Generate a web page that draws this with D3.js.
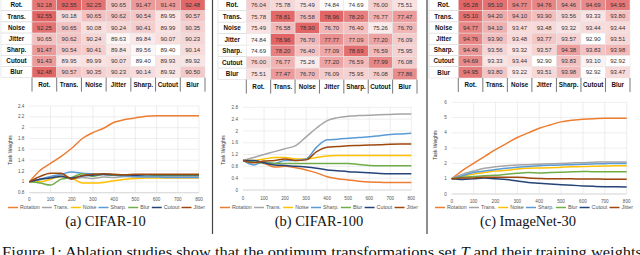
<!DOCTYPE html>
<html lang="en">
<head>
<meta charset="utf-8">
<title>Ablation: transformation pairs and task weights</title>
<script src="https://cdn.jsdelivr.net/npm/d3@7"></script>
<style>
  body { margin: 0; background: #fff; }
  svg { display: block; }
</style>
</head>
<body>
<script>
// ---- data ----
var rowNames = ["Rot.", "Trans.", "Noise", "Jitter", "Sharp.", "Cutout", "Blur"];

// accuracy of each transformation pair
var cifar10Acc = [
  [92.18, 92.55, 92.25, 90.65, 91.47, 91.43, 92.48],
  [92.55, 90.18, 90.65, 90.62, 90.54, 89.95, 90.57],
  [92.25, 90.65, 90.08, 90.24, 90.41, 89.99, 90.35],
  [90.65, 90.62, 90.24, 89.63, 89.84, 90.07, 90.23],
  [91.47, 90.54, 90.41, 89.84, 89.56, 89.40, 90.14],
  [91.43, 89.95, 89.99, 90.07, 89.40, 89.93, 89.92],
  [92.48, 90.57, 90.35, 90.23, 90.14, 89.92, 90.50]
];
var cifar100Acc = [
  [76.04, 75.78, 75.49, 74.84, 74.69, 76.00, 75.51],
  [75.78, 78.81, 76.58, 78.96, 78.20, 76.77, 77.47],
  [75.49, 76.58, 78.90, 76.70, 76.40, 75.26, 76.70],
  [74.84, 78.96, 76.70, 77.77, 77.09, 77.20, 76.09],
  [74.69, 78.20, 76.40, 77.09, 78.69, 76.59, 75.95],
  [76.00, 76.77, 75.26, 77.20, 76.59, 77.99, 76.08],
  [75.51, 77.47, 76.70, 76.09, 75.95, 76.08, 77.86]
];
var imagenetAcc = [
  [95.28, 95.10, 94.77, 94.76, 94.46, 94.69, 94.95],
  [95.10, 94.20, 94.10, 93.90, 93.56, 93.33, 93.80],
  [94.77, 94.10, 93.47, 93.48, 93.32, 93.44, 93.44],
  [94.76, 93.90, 93.48, 93.77, 93.57, 92.90, 93.51],
  [94.46, 93.56, 93.32, 93.57, 94.38, 93.83, 93.98],
  [94.69, 93.33, 93.44, 92.90, 93.83, 93.10, 92.92],
  [94.95, 93.80, 93.22, 93.51, 93.98, 92.92, 93.47]
];

// task weights during training
var seriesNames = ["Rotation", "Trans.", "Noise", "Sharp.", "Blur", "Cutout", "Jitter"];
var seriesColors = ["#ed7d31", "#a5a5a5", "#ffc000", "#5b9bd5", "#70ad47", "#264478", "#9e480e"];
var steps = [0, 50, 100, 150, 200, 250, 300, 350, 400, 450, 500, 550, 600, 650, 700, 750, 800];

// order: Rotation, Trans., Noise, Sharp., Blur, Cutout, Jitter
var cifar10Weights = [
  [1.00, 1.21, 1.34, 1.47, 1.62, 1.80, 1.91, 1.99, 2.10, 2.15, 2.18, 2.21, 2.22, 2.22, 2.22, 2.22, 2.22],
  [1.00, 1.04, 1.08, 1.12, 1.05, 1.08, 1.06, 1.09, 1.08, 1.10, 1.09, 1.10, 1.10, 1.10, 1.10, 1.10, 1.10],
  [1.00, 1.00, 1.05, 1.10, 1.07, 0.98, 0.98, 0.99, 1.02, 1.05, 1.06, 1.07, 1.07, 1.07, 1.07, 1.07, 1.07],
  [1.00, 1.05, 1.10, 1.14, 1.18, 1.16, 1.15, 1.13, 1.12, 1.11, 1.10, 1.09, 1.09, 1.08, 1.08, 1.08, 1.08],
  [1.00, 0.98, 0.94, 1.05, 1.08, 1.15, 1.10, 1.14, 1.12, 1.13, 1.12, 1.13, 1.12, 1.12, 1.12, 1.12, 1.12],
  [1.00, 1.05, 1.07, 1.10, 1.07, 1.11, 1.12, 1.14, 1.13, 1.13, 1.12, 1.13, 1.13, 1.13, 1.13, 1.13, 1.13],
  [1.00, 1.10, 1.16, 1.16, 1.05, 1.12, 1.14, 1.15, 1.14, 1.13, 1.14, 1.14, 1.14, 1.14, 1.14, 1.14, 1.14]
];
var cifar100Weights = [
  [1.00, 0.95, 0.90, 0.78, 0.80, 0.75, 0.68, 0.58, 0.45, 0.38, 0.34, 0.30, 0.27, 0.26, 0.25, 0.25, 0.25],
  [1.00, 1.10, 1.20, 1.30, 1.40, 1.50, 1.80, 2.10, 2.35, 2.45, 2.50, 2.52, 2.53, 2.55, 2.56, 2.57, 2.57],
  [1.00, 1.00, 1.05, 1.10, 1.10, 1.05, 1.05, 1.10, 1.15, 1.17, 1.17, 1.17, 1.17, 1.17, 1.17, 1.17, 1.17],
  [1.00, 0.85, 0.95, 0.90, 1.00, 1.00, 1.05, 1.45, 1.70, 1.72, 1.75, 1.78, 1.80, 1.84, 1.88, 1.90, 1.92],
  [1.00, 0.95, 0.92, 0.90, 0.90, 0.90, 0.90, 0.90, 0.90, 0.90, 0.90, 0.86, 0.83, 0.82, 0.82, 0.82, 0.82],
  [1.00, 1.00, 0.92, 0.85, 0.83, 0.80, 0.78, 0.74, 0.68, 0.65, 0.62, 0.60, 0.58, 0.56, 0.55, 0.55, 0.55],
  [1.00, 0.92, 0.98, 1.00, 1.05, 1.00, 1.02, 1.30, 1.45, 1.47, 1.50, 1.51, 1.52, 1.53, 1.55, 1.56, 1.56]
];
var imagenetWeights = [
  [1.00, 1.55, 2.00, 2.45, 2.90, 3.30, 3.70, 4.00, 4.30, 4.52, 4.72, 4.82, 4.89, 4.93, 4.95, 4.95, 4.95],
  [1.00, 1.30, 1.50, 1.68, 1.78, 1.85, 1.90, 1.92, 1.95, 1.98, 2.00, 2.03, 2.05, 2.08, 2.10, 2.10, 2.10],
  [1.00, 1.15, 1.30, 1.40, 1.50, 1.55, 1.63, 1.68, 1.70, 1.72, 1.75, 1.78, 1.80, 1.82, 1.83, 1.85, 1.85],
  [1.00, 1.20, 1.40, 1.50, 1.60, 1.68, 1.75, 1.80, 1.85, 1.88, 1.90, 1.92, 1.95, 1.97, 1.98, 2.00, 2.00],
  [1.00, 1.10, 1.15, 1.20, 1.22, 1.30, 1.35, 1.40, 1.38, 1.40, 1.42, 1.45, 1.48, 1.45, 1.45, 1.45, 1.45],
  [1.00, 0.95, 1.00, 1.05, 1.00, 0.95, 0.85, 0.75, 0.70, 0.65, 0.60, 0.57, 0.53, 0.50, 0.48, 0.47, 0.46],
  [1.00, 1.05, 1.05, 1.10, 1.10, 1.10, 1.10, 1.05, 1.02, 1.00, 1.00, 0.99, 0.98, 0.98, 0.97, 0.97, 0.97]
];

var cifar10Ticks = [0.8, 1, 1.2, 1.4, 1.6, 1.8, 2, 2.2, 2.4];
var cifar100Ticks = [0, 0.4, 0.8, 1.2, 1.6, 2, 2.4, 2.8];
var imagenetTicks = [0, 1, 2, 3, 4, 5, 6];
var stepTicks = [0, 100, 200, 300, 400, 500, 600, 700, 800];

var captions = ["(a) CIFAR-10", "(b) CIFAR-100", "(c) ImageNet-30"];

// ---- page ----
var width = 640, height = 255;
var svg = d3.select("body").append("svg").attr("width", width).attr("height", height);
var sans = "Arial, 'Liberation Sans', sans-serif";
var serif = "'Times New Roman', 'Liberation Serif', serif";

// panel dividers
[212.5, 427].forEach(function (x) {
  svg.append("line").attr("x1", x).attr("x2", x).attr("y1", 0).attr("y2", 234)
    .attr("stroke", "#444").attr("stroke-width", 1.2);
});

function drawTable(acc, labelX0, cellX0, cellX1, rowY0, rowY1) {
  var g = svg.append("g");
  var xs = d3.scaleBand().domain(d3.range(7)).range([cellX0, cellX1]);
  var ys = d3.scaleBand().domain(d3.range(7)).range([rowY0, rowY1]);
  var flat = d3.merge(acc);
  var color = d3.scaleLinear().domain([d3.min(flat), d3.max(flat)])
    .range(["#ffffff", "#e26464"]);

  // row labels
  rowNames.forEach(function (name, i) {
    g.append("rect").attr("x", labelX0).attr("y", ys(i))
      .attr("width", cellX0 - labelX0).attr("height", ys.bandwidth())
      .attr("fill", "#fff").attr("stroke", "#d4d4d4").attr("stroke-width", 0.5);
    g.append("text").attr("x", (labelX0 + cellX0) / 2).attr("y", ys(i) + ys.bandwidth() / 2)
      .attr("dy", "0.35em").attr("text-anchor", "middle")
      .style("font-family", sans).style("font-size", "6.3px").style("font-weight", "bold")
      .attr("fill", "#111").text(name);
  });

  // cells
  acc.forEach(function (row, i) {
    row.forEach(function (v, j) {
      g.append("rect").attr("x", xs(j)).attr("y", ys(i))
        .attr("width", xs.bandwidth()).attr("height", ys.bandwidth())
        .attr("fill", color(v)).attr("stroke", "#e6e6e6").attr("stroke-width", 0.5);
      g.append("text").attr("x", xs(j) + xs.bandwidth() / 2).attr("y", ys(i) + ys.bandwidth() / 2)
        .attr("dy", "0.35em").attr("text-anchor", "middle")
        .style("font-family", sans).style("font-size", "6px")
        .attr("fill", "#333").text(v.toFixed(2));
    });
  });

  // column labels
  var labY = rowY1 + 7.2;
  rowNames.forEach(function (name, j) {
    g.append("text").attr("x", xs(j) + xs.bandwidth() / 2).attr("y", labY)
      .attr("dy", "0.35em").attr("text-anchor", "middle")
      .style("font-family", sans).style("font-size", "6.3px").style("font-weight", "bold")
      .attr("fill", "#111").text(name);
  });
  d3.range(8).forEach(function (k) {
    var x = k < 7 ? xs(k) : cellX1;
    g.append("line").attr("x1", x).attr("x2", x).attr("y1", rowY1).attr("y2", rowY1 + 14)
      .attr("stroke", "#555").attr("stroke-width", 0.8);
  });
}

drawTable(cifar10Acc, 1, 32, 205, -0.3, 77.6);
drawTable(cifar100Acc, 218, 246.3, 417, -0.8, 79.6);
drawTable(imagenetAcc, 429, 458.3, 630, -0.5, 78);

function drawChart(weights, yTicks, x0, x1, yTop, yBot, xTickY, legendX0, legendX1, titleX, titleY, caption, capX) {
  var g = svg.append("g");
  var x = d3.scaleLinear().domain([0, 800]).range([x0, x1]);
  var y = d3.scaleLinear().domain([yTicks[0], yTicks[yTicks.length - 1]]).range([yBot, yTop]);

  // gridlines
  g.selectAll(".hg").data(yTicks).enter().append("line")
    .attr("x1", x0).attr("x2", x1).attr("y1", function (d) { return y(d); }).attr("y2", function (d) { return y(d); })
    .attr("stroke", "#e3e3e3").attr("stroke-width", 0.6);
  g.selectAll(".vg").data(stepTicks.slice(1)).enter().append("line")
    .attr("y1", yTop).attr("y2", yBot).attr("x1", function (d) { return x(d); }).attr("x2", function (d) { return x(d); })
    .attr("stroke", "#e3e3e3").attr("stroke-width", 0.6);
  g.append("line").attr("x1", x0).attr("x2", x1).attr("y1", yBot).attr("y2", yBot)
    .attr("stroke", "#cfcfcf").attr("stroke-width", 0.7);

  // tick labels
  g.selectAll(".yt").data(yTicks).enter().append("text")
    .attr("x", x0 - 5).attr("y", function (d) { return y(d); }).attr("dy", "0.35em")
    .attr("text-anchor", "end").style("font-family", sans).style("font-size", "4.6px")
    .attr("fill", "#555").text(function (d) { return d3.format("~g")(d); });
  g.selectAll(".xt").data(stepTicks).enter().append("text")
    .attr("x", function (d) { return x(d); }).attr("y", xTickY).attr("dy", "0.35em")
    .attr("text-anchor", "middle").style("font-family", sans).style("font-size", "4.6px")
    .attr("fill", "#555").text(function (d) { return d; });

  g.append("text").attr("transform", "translate(" + titleX + "," + titleY + ") rotate(-90)")
    .attr("text-anchor", "middle").attr("dy", "0.35em")
    .style("font-family", sans).style("font-size", "5px").attr("fill", "#333").text("Task Weights");

  // series
  var line = d3.line()
    .x(function (d, i) { return x(steps[i]); })
    .y(function (d) { return y(d); })
    .curve(d3.curveMonotoneX);
  weights.forEach(function (vals, k) {
    g.append("path").attr("d", line(vals)).attr("fill", "none")
      .attr("stroke", seriesColors[k]).attr("stroke-width", 1.5);
  });

  // legend
  var ly = 207.5, seg = 10, gap = 2;
  var items = seriesNames.map(function (name, k) {
    var t = g.append("text").attr("y", ly).attr("dy", "0.35em")
      .style("font-family", sans).style("font-size", "5.3px").attr("fill", "#555").text(name);
    return { t: t, w: t.node().getComputedTextLength(), k: k };
  });
  var total = d3.sum(items, function (d) { return seg + gap + d.w; });
  var space = (legendX1 - legendX0 - total) / (items.length - 1);
  var cx = legendX0;
  items.forEach(function (d) {
    g.append("line").attr("x1", cx).attr("x2", cx + seg).attr("y1", ly).attr("y2", ly)
      .attr("stroke", seriesColors[d.k]).attr("stroke-width", 1.5);
    d.t.attr("x", cx + seg + gap);
    cx += seg + gap + d.w + space;
  });

  svg.append("text").attr("x", capX).attr("y", 226).attr("text-anchor", "middle")
    .style("font-family", serif).style("font-size", "14.5px").attr("fill", "#111").text(caption);
}

drawChart(cifar10Weights, cifar10Ticks, 29.3, 199, 106, 192.7, 199.3, 8, 205, 10, 150, captions[0], 105.5);
drawChart(cifar100Weights, cifar100Ticks, 243, 411.3, 107.3, 190, 198.3, 220, 418, 223, 150, captions[1], 319);
drawChart(imagenetWeights, imagenetTicks, 451.7, 626.7, 102.3, 194, 201.7, 435, 633, 435, 145, captions[2], 528);

// figure caption (runs past the bottom edge, as in the source figure)
var cap = svg.append("text").attr("x", 2).attr("y", 257)
  .style("font-family", serif).style("font-size", "15px").attr("fill", "#111")
  .attr("textLength", 640).attr("lengthAdjust", "spacingAndGlyphs");
cap.append("tspan").text("Figure 1: Ablation studies show that the optimum transformations set ");
cap.append("tspan").style("font-style", "italic").text("T");
cap.append("tspan").text(" and their training weights");
</script>
</body>
</html>
